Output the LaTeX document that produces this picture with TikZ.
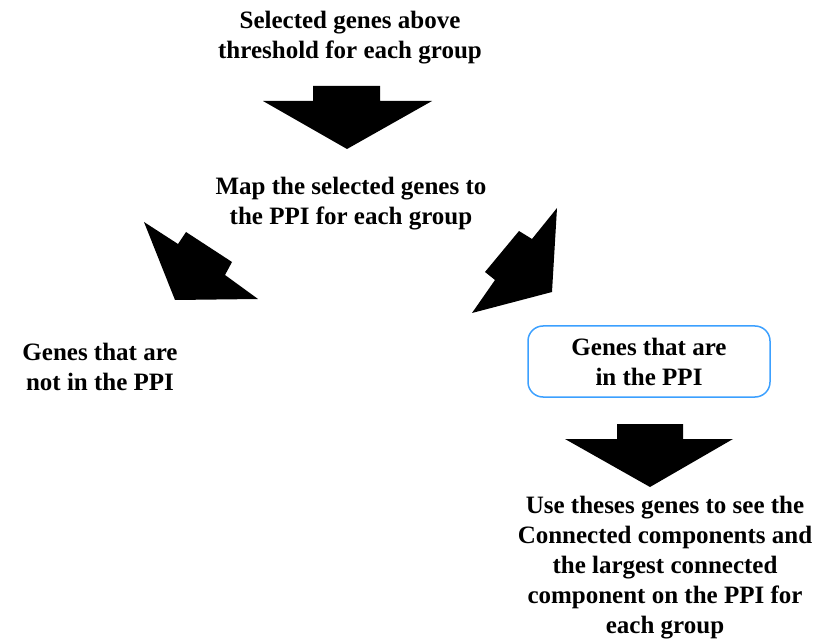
\documentclass[tikz,border=0pt]{standalone}
\usepackage{fontspec}
\setmainfont{Liberation Serif}
\definecolor{boxblue}{RGB}{60,160,255}
\begin{document}
\begin{tikzpicture}[x=1pt,y=-1pt,
  lbl/.style={align=center,font=\bfseries\fontsize{25}{30}\selectfont,inner sep=0pt},
  blockarrow/.style={fill=black,draw=none}]
\useasboundingbox (0,0) rectangle (828,639);
\node[lbl] (sel) at (350,38) {Selected genes above\\threshold for each group};
\node[lbl] (map) at (351,204) {Map the selected genes to\\the PPI for each group};
\node[lbl] (notin) at (100,367) {Genes that are\\not in the PPI};
\node[draw=boxblue,line width=1.5pt,rounded corners=15pt,minimum width=242pt,minimum height=71pt,inner sep=0pt] (inbox) at (649,361.5) {};
\node[lbl] (in) at (inbox.center) {Genes that are\\in the PPI};
\node[lbl] (use) at (665,568) {Use theses genes to see the\\Connected components and\\the largest connected\\component on the PPI for\\each group};
% block arrows
\fill[blockarrow] (313,86) -- (380,86) -- (380,101) -- (432,101) -- (347,149) -- (263,101) -- (313,101) -- cycle;
\fill[blockarrow] (144,222) -- (178,244) -- (186,232) -- (232,262) -- (225,275) -- (258,299) -- (175,300) -- cycle;
\fill[blockarrow] (472,313) -- (495,280) -- (485,272) -- (519,231) -- (532,239) -- (557,208) -- (552,292) -- cycle;
\fill[blockarrow] (617,424) -- (683,424) -- (683,439) -- (733,439) -- (650,487) -- (565,439) -- (617,439) -- cycle;
\end{tikzpicture}
\end{document}
